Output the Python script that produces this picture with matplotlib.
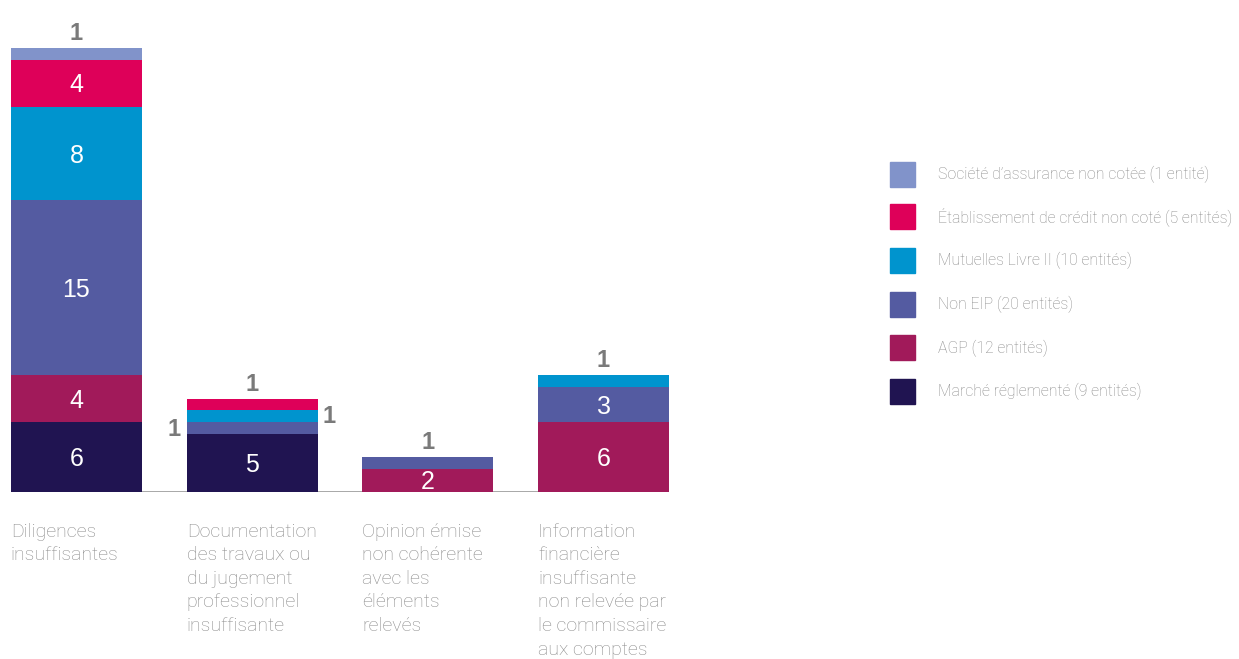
import matplotlib
matplotlib.use("Agg")
import matplotlib.pyplot as plt
from matplotlib.patches import Rectangle

categories = [
    "Diligences\ninsuffisantes",
    "Documentation\ndes travaux ou\ndu jugement\nprofessionnel\ninsuffisante",
    "Opinion émise\nnon cohérente\navec les\néléments\nrelevés",
    "Information\nfinancière\ninsuffisante\nnon relevée par\nle commissaire\naux comptes",
]
series_names = [
    "Marché réglementé (9 entités)",
    "AGP (12 entités)",
    "Non EIP (20 entités)",
    "Mutuelles Livre II (10 entités)",
    "Établissement de crédit non coté (5 entités)",
    "Société d’assurance non cotée (1 entité)",
]
marche = [6, 5, 0, 0]
agp = [4, 0, 2, 6]
non_eip = [15, 1, 1, 3]
mutuelles = [8, 1, 0, 1]
etablissement = [4, 1, 0, 0]
societe = [1, 0, 0, 0]
series_values = [marche, agp, non_eip, mutuelles, etablissement, societe]
colors = ["#201451", "#A11A5A", "#545BA1", "#0094CE", "#DE0059", "#8193CA"]

# placement of outside labels for small segments: (category index, series index) -> side
outside = {
    (0, 5): "top",
    (1, 2): "left",
    (1, 3): "right",
    (1, 4): "top",
    (2, 2): "top",
    (3, 3): "top",
}

W, H = 1239, 659
fig = plt.figure(figsize=(W / 100, H / 100), dpi=100)
ax = fig.add_axes([11 / W, 167 / H, 658 / W, 467 / H])
width = 0.745
ax.set_xlim(-width / 2, 3 + width / 2)
ax.set_ylim(0, 40)
ax.axis("off")

num_font = "Liberation Sans"
gray_num = "#7a7a7a"
x = list(range(len(categories)))
bottoms = [0] * len(categories)
for si, vals in enumerate(series_values):
    ax.bar(x, vals, width=width, bottom=bottoms, color=colors[si], linewidth=0, zorder=2)
    for ci, v in enumerate(vals):
        if v == 0:
            continue
        b = bottoms[ci]
        side = outside.get((ci, si))
        if side is None:
            ax.annotate(str(v), (ci, b + v / 2), xytext=(0, -1.5), textcoords="offset points",
                        ha="center", va="center", color="white",
                        fontsize=18, family=num_font, zorder=3)
        elif side == "top":
            ax.annotate(str(v), (ci, b + v), xytext=(0, 10.5), textcoords="offset points",
                        ha="center", va="center", color=gray_num, fontsize=17,
                        fontweight="bold", family=num_font)
        elif side == "left":
            ax.annotate(str(v), (ci - width / 2, b + v / 2), xytext=(-9, -1),
                        textcoords="offset points", ha="center", va="center",
                        color=gray_num, fontsize=17, fontweight="bold", family=num_font)
        elif side == "right":
            ax.annotate(str(v), (ci + width / 2, b + v / 2), xytext=(8, 0),
                        textcoords="offset points", ha="center", va="center",
                        color=gray_num, fontsize=17, fontweight="bold", family=num_font)
    bottoms = [bottoms[i] + vals[i] for i in range(len(vals))]

ax.axhline(0, color="#9a9a9a", linewidth=1.2, zorder=1)

label_color = "#8a8a8a"
for ci, cat in enumerate(categories):
    ax.annotate(cat, (ci - width / 2, 0), xytext=(0, -22), textcoords="offset points",
                ha="left", va="top", color=label_color, fontsize=14,
                family="Roboto", fontweight="light", linespacing=1.4)

# legend
leg_y = [174, 217, 260, 304, 348, 391]
for k, si in enumerate(reversed(range(len(series_names)))):
    yc = leg_y[k]
    fig.patches.append(Rectangle((890 / W, 1 - (yc + 12.5) / H), 25 / W, 25 / H,
                                 transform=fig.transFigure, color=colors[si]))
    fig.text(938 / W, 1 - yc / H, series_names[si], ha="left", va="center",
             color=label_color, fontsize=11.4, family="Roboto", fontweight="light")

fig.savefig("out.png", dpi=100)
